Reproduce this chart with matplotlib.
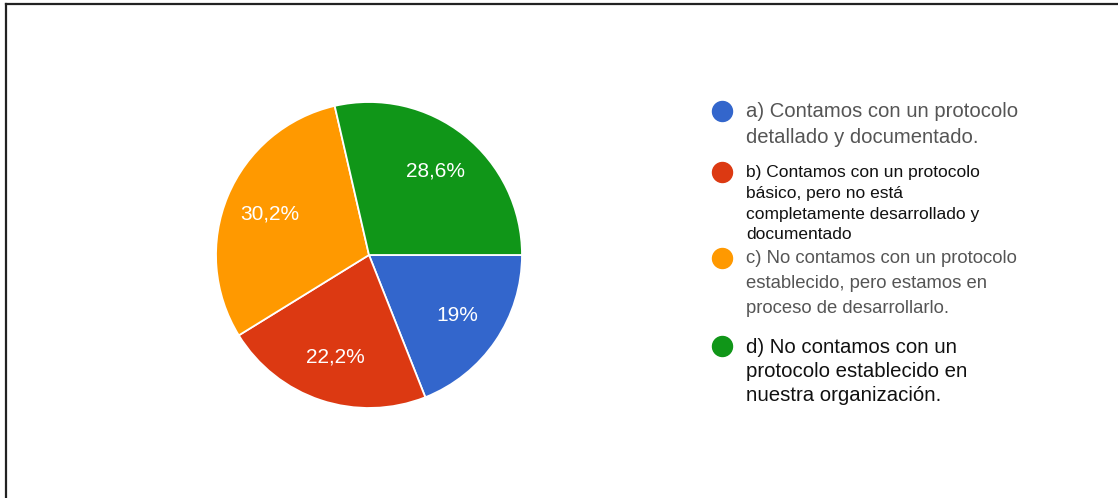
import matplotlib.pyplot as plt
from matplotlib.lines import Line2D

plt.rcParams['font.family'] = ['Liberation Sans', 'DejaVu Sans']

# Survey answers (percent of respondents)
values = [19.0, 22.2, 30.2, 28.6]
colors = ['#3366CC', '#DC3912', '#FF9900', '#109618']
legend_labels = [
    'a) Contamos con un protocolo\ndetallado y documentado.',
    'b) Contamos con un protocolo\nbásico, pero no está\ncompletamente desarrollado y\ndocumentado',
    'c) No contamos con un protocolo\nestablecido, pero estamos en\nproceso de desarrollarlo.',
    'd) No contamos con un\nprotocolo establecido en\nnuestra organización.',
]
# each legend entry was pasted with its own text style
legend_sizes = [14.6, 12.5, 13.3, 14.7]
legend_text_colors = ['#555555', '#111111', '#555555', '#111111']

W, H = 1118, 498
fig = plt.figure(figsize=(W / 100, H / 100), dpi=100)
fig.patch.set_facecolor('white')

# pie centred at (369, 255) px with radius 153 px
cx, cy, r = 369, 255, 153
ax = fig.add_axes([(cx - r) / W, (H - cy - r) / H, 2 * r / W, 2 * r / H])


def pct_fmt(p):
    s = f'{p:.1f}'
    if s.endswith('.0'):
        s = s[:-2]
    return s.replace('.', ',') + '%'


ax.pie(values, colors=colors, startangle=0, counterclock=False,
       autopct=pct_fmt, pctdistance=0.7, radius=1,
       wedgeprops=dict(edgecolor='white', linewidth=1.3),
       textprops=dict(color='white', fontsize=15))
ax.set_xlim(-1, 1)
ax.set_ylim(-1, 1)
ax.set_aspect('equal')
ax.axis('off')

# legend: dot plus wrapped text, drawn line by line
dot_y = [111, 172, 258, 346]
first_baseline = [116.7, 177.3, 263.3, 353.3]
line_step = [26.6, 20.6, 24.7, 23.7]
for i, label in enumerate(legend_labels):
    fig.add_artist(Line2D([722 / W], [1 - dot_y[i] / H], marker='o',
                          markersize=14.4, color=colors[i], linestyle='none'))
    for j, line in enumerate(label.split('\n')):
        y = first_baseline[i] + j * line_step[i]
        fig.text(746 / W, 1 - y / H, line, fontsize=legend_sizes[i],
                 color=legend_text_colors[i], ha='left', va='baseline')

# frame lines along the top and left edges
fig.add_artist(Line2D([6 / W, 1], [1 - 3.7 / H, 1 - 3.7 / H], color='#222222', linewidth=1.6))
fig.add_artist(Line2D([6 / W, 6 / W], [0, 1 - 3.7 / H], color='#222222', linewidth=1.6))

fig.savefig('out.png', dpi=100, facecolor='white')
